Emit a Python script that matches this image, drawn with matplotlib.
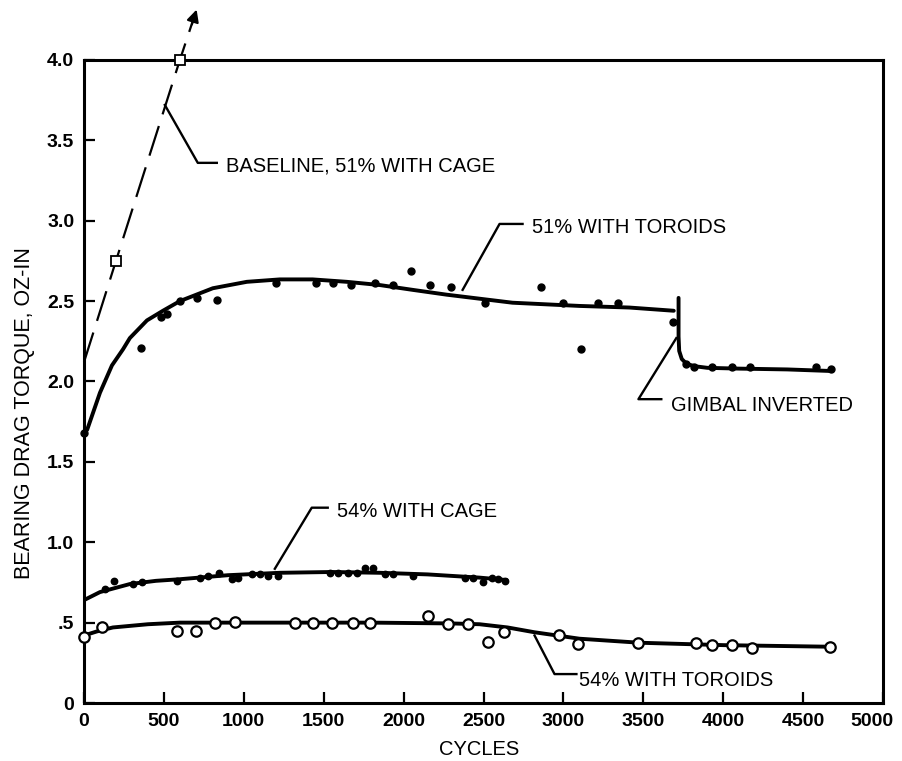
import matplotlib
matplotlib.use("Agg")
import matplotlib.pyplot as plt
import matplotlib.transforms as mtransforms

plt.rcParams['font.family'] = ['Liberation Sans', 'DejaVu Sans']

# ---- data ----
baseline_x = [0, 200, 600]
baseline_y = [2.12, 2.75, 4.0]
baseline_arrow_end = (710, 4.33)

tor51_pts_x = [0, 356, 481, 521, 600, 706, 830, 1200, 1450, 1556, 1673, 1819, 1931,
               2044, 2162, 2294, 2506, 2862, 2994, 3112, 3219, 3344, 3687, 3769,
               3819, 3931, 4056, 4169, 4581, 4675]
tor51_pts_y = [1.68, 2.21, 2.40, 2.42, 2.50, 2.52, 2.51, 2.61, 2.61, 2.61, 2.60, 2.61, 2.60,
               2.69, 2.60, 2.59, 2.49, 2.59, 2.49, 2.20, 2.49, 2.49, 2.37, 2.11,
               2.09, 2.09, 2.09, 2.09, 2.09, 2.075]
tor51_fit_x = [0, 20, 100, 175, 244, 287, 394, 494, 600, 806, 1019, 1225, 1431, 1644,
               1850, 2056, 2269, 2475, 2681, 3100, 3412, 3690]
tor51_fit_y = [1.68, 1.70, 1.93, 2.10, 2.20, 2.27, 2.38, 2.44, 2.50, 2.58, 2.62, 2.635,
               2.635, 2.62, 2.60, 2.57, 2.54, 2.515, 2.49, 2.47, 2.46, 2.44]
# after gimbal inverted
inv51_fit_x = [3720, 3720, 3724, 3740, 3770, 3820, 3900, 4100, 4400, 4680]
inv51_fit_y = [2.52, 2.28, 2.19, 2.14, 2.11, 2.095, 2.085, 2.08, 2.075, 2.065]

cage54_pts_x = [131, 188, 306, 362, 581, 725, 775, 844, 925, 962, 1050, 1100, 1150, 1212,
                1537, 1587, 1650, 1706, 1756, 1806, 1881, 1931, 2056, 2381, 2431, 2494,
                2550, 2588, 2631]
cage54_pts_y = [0.71, 0.76, 0.74, 0.75, 0.76, 0.78, 0.79, 0.81, 0.77, 0.78, 0.80, 0.80, 0.79,
                0.79, 0.81, 0.81, 0.81, 0.81, 0.84, 0.84, 0.80, 0.80, 0.79, 0.78, 0.78, 0.75,
                0.78, 0.77, 0.76]
cage54_fit_x = [0, 100, 287, 450, 600, 900, 1225, 1550, 1850, 2150, 2475, 2644]
cage54_fit_y = [0.64, 0.69, 0.74, 0.76, 0.77, 0.795, 0.81, 0.815, 0.81, 0.80, 0.78, 0.765]

tor54_pts_x = [0, 112, 581, 700, 819, 944, 1319, 1431, 1550, 1681, 1787, 2150, 2275,
               2400, 2530, 2625, 2975, 3088, 3469, 3831, 3931, 4056, 4181, 4669]
tor54_pts_y = [0.41, 0.47, 0.45, 0.45, 0.50, 0.505, 0.50, 0.50, 0.50, 0.50, 0.50, 0.54,
               0.49, 0.49, 0.38, 0.44, 0.42, 0.37, 0.375, 0.375, 0.36, 0.36, 0.34, 0.35]
tor54_fit_x = [0, 80, 181, 400, 600, 900, 1225, 1800, 2300, 2475, 2650, 2819, 3100, 3475,
               4000, 4675]
tor54_fit_y = [0.42, 0.445, 0.47, 0.49, 0.50, 0.50, 0.50, 0.50, 0.495, 0.49, 0.47, 0.44,
               0.40, 0.375, 0.36, 0.35]

x_ticks = [0, 500, 1000, 1500, 2000, 2500, 3000, 3500, 4000, 4500, 5000]
y_ticks = [0, 0.5, 1.0, 1.5, 2.0, 2.5, 3.0, 3.5, 4.0]
y_ticklabels = ['0', '.5', '1.0', '1.5', '2.0', '2.5', '3.0', '3.5', '4.0']


def main():
    fig = plt.figure(figsize=(9.02, 7.61), dpi=100)
    ax = fig.add_axes([0.0931, 0.0762, 0.886, 0.845])

    # BASELINE (dashed, runs off the top with an arrow)
    ax.plot(baseline_x + [baseline_arrow_end[0] - 20], baseline_y + [baseline_arrow_end[1] - 0.06],
            color='black', lw=1.6, dashes=(14, 5.5), clip_on=False, zorder=2)
    ax.annotate('', xy=baseline_arrow_end, xytext=(baseline_arrow_end[0] - 40, baseline_arrow_end[1] - 0.125),
                arrowprops=dict(arrowstyle='-|>', color='black', lw=1.6, mutation_scale=18),
                annotation_clip=False)
    ax.plot(baseline_x[1:], baseline_y[1:], ls='none', marker='s', ms=6.5, mfc='white',
            mec='black', mew=1.3, clip_on=False, zorder=4)

    # 51% WITH TOROIDS
    ax.plot(tor51_fit_x, tor51_fit_y, color='black', lw=2.8, solid_capstyle='round')
    ax.plot(inv51_fit_x, inv51_fit_y, color='black', lw=2.8, solid_capstyle='round')
    ax.plot(tor51_pts_x, tor51_pts_y, ls='none', marker='o', ms=5.0, color='black', clip_on=False)

    # 54% WITH CAGE
    ax.plot(cage54_fit_x, cage54_fit_y, color='black', lw=2.8, solid_capstyle='round')
    ax.plot(cage54_pts_x, cage54_pts_y, ls='none', marker='o', ms=4.6, color='black')

    # 54% WITH TOROIDS
    ax.plot(tor54_fit_x, tor54_fit_y, color='black', lw=2.8, solid_capstyle='round')
    ax.plot(tor54_pts_x, tor54_pts_y, ls='none', marker='o', ms=7.5, mfc='white',
            mec='black', mew=1.6, clip_on=False, zorder=4)

    # leader lines + labels
    lab = dict(fontsize=14.5, va='center', ha='left', color='black')
    lead = dict(color='black', lw=1.7, clip_on=False)
    ax.plot([506, 712, 831], [3.72, 3.36, 3.36], **lead)
    ax.text(890, 3.34, 'BASELINE, 51% WITH CAGE', **lab)
    ax.plot([2369, 2600, 2744], [2.57, 2.98, 2.98], **lead)
    ax.text(2800, 2.96, '51% WITH TOROIDS', **lab)
    ax.plot([3706, 3469, 3612], [2.27, 1.89, 1.89], **lead)
    ax.text(3675, 1.85, 'GIMBAL INVERTED', **lab)
    ax.plot([1194, 1425, 1525], [0.835, 1.215, 1.215], **lead)
    ax.text(1585, 1.19, '54% WITH CAGE', **lab)
    ax.plot([2819, 2944, 3081], [0.42, 0.18, 0.18], **lead)
    ax.text(3100, 0.14, '54% WITH TOROIDS', **lab)

    ax.set_xlim(0, 5000)
    ax.set_ylim(0, 4.0)
    ax.set_xticks(x_ticks)
    ax.set_xticklabels([str(t) for t in x_ticks], fontsize=14.0, fontweight='bold')
    ax.set_yticks(y_ticks)
    ax.set_yticklabels(y_ticklabels, fontsize=14.0, fontweight='bold')
    ax.tick_params(direction='in', length=8, width=1.6, top=False, right=False, pad=7)

    # last x label sits a little left of its tick, as in the original
    last = ax.get_xticklabels()[-1]
    last.set_transform(last.get_transform()
                       + mtransforms.ScaledTranslation(-8 / 72, 0, fig.dpi_scale_trans))

    for s in ax.spines.values():
        s.set_linewidth(2.2)

    ax.set_xlabel('CYCLES', fontsize=14.5)
    ax.xaxis.set_label_coords(0.494, -0.057)
    ax.set_ylabel('BEARING DRAG TORQUE, OZ-IN', fontsize=15.5)
    ax.yaxis.set_label_coords(-0.061, 0.451)

    fig.savefig('out.png', dpi=100)
    plt.close(fig)


if __name__ == "__main__":
    main()
